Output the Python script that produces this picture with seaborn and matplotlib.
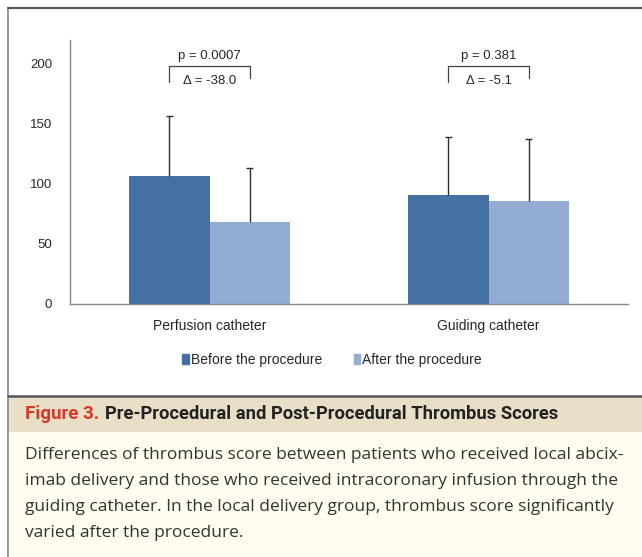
import numpy as np
import matplotlib.pyplot as plt
import pandas as pd
import seaborn as sns
from matplotlib.lines import Line2D
from matplotlib.patches import Rectangle, Patch

groups = ['Perfusion catheter', 'Guiding catheter']
phases = ['Before the procedure', 'After the procedure']
before = [106.7, 91.1]
after = [68.7, 86.0]
before_sd = [50.3, 47.8]
after_sd = [44.6, 51.8]
p_values = ['p = 0.0007', 'p = 0.381']
deltas = ['\u0394 = -38.0', '\u0394 = -5.1']
yticks = [0, 50, 100, 150, 200]

caption_head = 'Pre-Procedural and Post-Procedural Thrombus Scores'
caption_lines = [
    'Differences of thrombus score between patients who received local abcix-',
    'imab delivery and those who received intracoronary infusion through the',
    'guiding catheter. In the local delivery group, thrombus score significantly',
    'varied after the procedure.',
]

dark = '#4470a4'
light = '#93acd3'

df = pd.DataFrame({
    'group': groups * 2,
    'phase': [phases[0]] * 2 + [phases[1]] * 2,
    'score': before + after,
    'sd': before_sd + after_sd,
})

sns.set_style('white')
plt.rcParams['font.family'] = ['Liberation Sans', 'DejaVu Sans']

W, H = 642, 557
fig = plt.figure(figsize=(W / 100, H / 100), dpi=100)

def fx(px):
    return px / W

def fy(py):
    return 1 - py / H

# caption backgrounds
fig.patches.append(Rectangle((fx(8), fy(432)), 1, fy(397) - fy(432),
                             transform=fig.transFigure, color='#e9dfc7', zorder=0))
fig.patches.append(Rectangle((fx(8), 0), 1, fy(432),
                             transform=fig.transFigure, color='#fffdf0', zorder=0))
# frame lines
fig.add_artist(Line2D([fx(8), fx(8)], [0, fy(8)], color='#8a8a8a', lw=1.2))
fig.add_artist(Line2D([fx(8), 1], [fy(8), fy(8)], color='#555555', lw=1.6))
fig.add_artist(Line2D([fx(8), 1], [fy(396), fy(396)], color='#555555', lw=1.8))

ax = fig.add_axes([fx(70), fy(304), fx(628) - fx(70), fy(40) - fy(304)])
sns.barplot(data=df, x='group', y='score', hue='phase', order=groups,
            hue_order=phases, palette=[dark, light], width=0.574,
            errorbar=None, saturation=1, linewidth=0, ax=ax, legend=False)

# upper-only error bars at the bar centres
centres = {}
for bars, phase in zip(ax.containers, phases):
    sub = df[df['phase'] == phase].set_index('group').loc[groups]
    xs = [b.get_x() + b.get_width() / 2 for b in bars]
    centres[phase] = xs
    ax.vlines(xs, sub['score'], sub['score'] + sub['sd'], color='#2e2e2e', lw=1.0, zorder=3)
    ax.hlines(sub['score'] + sub['sd'], np.array(xs) - 0.013, np.array(xs) + 0.013,
              color='#2e2e2e', lw=1.0, zorder=3)

# significance brackets
for i in range(len(groups)):
    x0, x1 = centres[phases[0]][i], centres[phases[1]][i]
    ax.plot([x0, x0, x1, x1], [185, 198.5, 198.5, 188], color='#444444', lw=0.9, clip_on=False)
    ax.text((x0 + x1) / 2, 202, p_values[i], ha='center', va='bottom', fontsize=9.5)
    ax.text((x0 + x1) / 2, 186, deltas[i], ha='center', va='center', fontsize=9.5)

ax.set_xlim(-0.5, 1.5)
ax.set_ylim(0, 220)
ax.set_yticks(yticks)
ax.set_xticks([0.5, 1.5], minor=True)
ax.tick_params(axis='x', which='major', length=0, labelsize=10, pad=11)
ax.tick_params(axis='x', which='minor', length=4, color='#888888', direction='out')
ax.tick_params(axis='y', length=5, color='#888888', direction='out', labelsize=9.5, pad=8)
ax.set_xlabel('')
ax.set_ylabel('')
for side in ['top', 'right']:
    ax.spines[side].set_visible(False)
for side in ['left', 'bottom']:
    ax.spines[side].set_color('#888888')
    ax.spines[side].set_linewidth(1.0)

handles = [Patch(color=dark), Patch(color=light)]
ax.legend(handles, phases, loc='center', bbox_to_anchor=((332 - 70) / 558, (304 - 360) / 264),
          ncol=2, frameon=False, fontsize=10, handlelength=0.45, handleheight=0.7,
          handletextpad=0.15, columnspacing=2.3)

head_font = ['Liberation Sans Narrow', 'Roboto', 'DejaVu Sans']
fig.text(fx(25), fy(414), 'Figure 3.', color='#d8392b', fontsize=13.5, fontweight='bold',
         va='center', family=head_font)
fig.text(fx(105), fy(414), caption_head, color='#222222', fontsize=13.2, fontweight='bold',
         va='center', family=head_font)
for k, line in enumerate(caption_lines):
    fig.text(fx(25), fy(455 + 26 * k), line, color='#333333', fontsize=12.5,
             va='center', family=['Open Sans', 'DejaVu Sans'])

fig.savefig('out.png', dpi=100)
